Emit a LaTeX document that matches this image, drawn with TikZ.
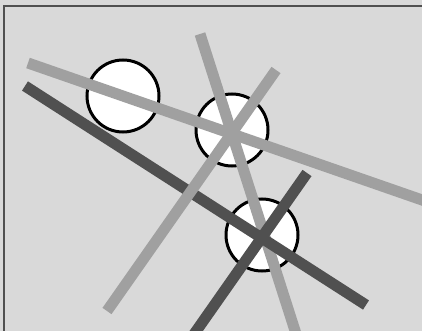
\documentclass[tikz,border=0pt]{standalone}
\definecolor{bgc}{HTML}{D9D9D9}
\definecolor{lightbar}{HTML}{A0A0A0}
\definecolor{darkbar}{HTML}{505050}
\tikzset{
  ring/.style={draw=black, line width=3pt, fill=white, circle, minimum size=72pt, inner sep=0pt},
  lightline/.style={draw=lightbar, line width=11pt},
  darkline/.style={draw=darkbar, line width=11pt},
}
\begin{document}
\begin{tikzpicture}[x=1pt,y=-1pt]
\useasboundingbox (0,0) rectangle (422,331);
\fill[bgc] (0,0) rectangle (422,331);
\draw[darkbar, line width=1.2pt] (4,345) -- (4,6) -- (440,6);
% circles
\node[ring] (c1) at (123,96) {};
\node[ring] (c2) at (232,130) {};
\node[ring] (c3) at (262,235) {};
% line endpoints
\coordinate (a1) at (28,63);   \coordinate (a2) at (425,201);
\coordinate (b1) at (25,86);   \coordinate (b2) at (366,305);
\coordinate (c1s) at (200,34); \coordinate (c1e) at (298,340);
\coordinate (d1) at (276,70);  \coordinate (d2) at (107,311);
\coordinate (e1) at (307,173); \coordinate (e2) at (192,337);
\draw[lightline] (c1s) -- (c1e);
\draw[darkline] (b1) -- (b2);
\draw[darkline] (e1) -- (e2);
\draw[lightline] (d1) -- (d2);
\draw[lightline] (a1) -- (a2);
\end{tikzpicture}
\end{document}
